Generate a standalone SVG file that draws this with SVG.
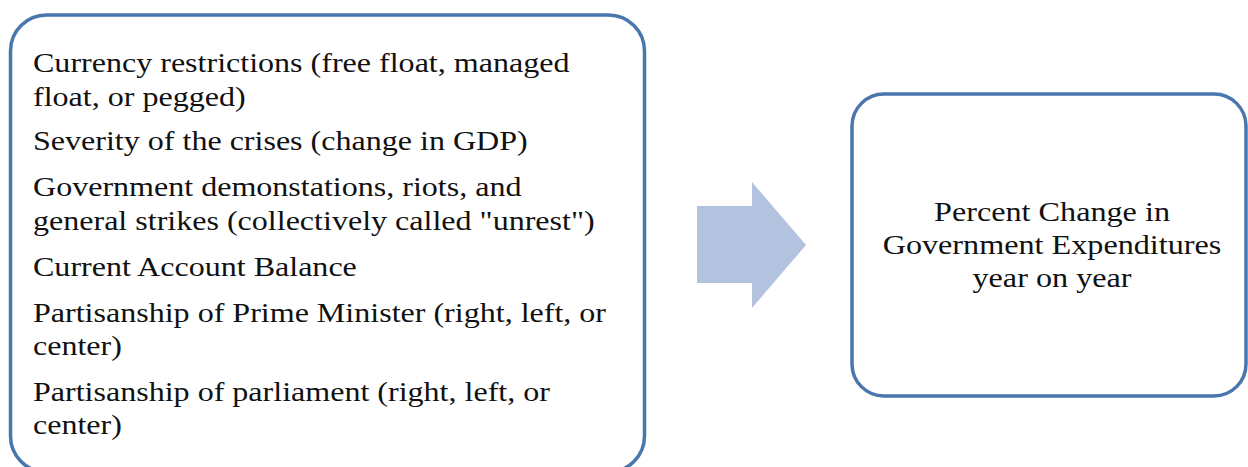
<svg xmlns="http://www.w3.org/2000/svg" width="1248" height="467" viewBox="0 0 1248 467">
<style>
.box{fill:#ffffff;stroke:#4A76AE;stroke-width:3.5}
.t{font-family:"Liberation Serif","Times New Roman",serif;font-size:28px;fill:#111111}
.c{text-anchor:middle}
</style>
<rect width="1248" height="467" fill="#ffffff"/>
<g id="factors">
<rect class="box" x="10.5" y="15" width="634" height="457" rx="36" ry="36"/>
<g transform="translate(33,0) scale(1.145,1)">
<text class="t" x="0" y="72">Currency restrictions (free float, managed</text>
<text class="t" x="0" y="106">float, or pegged)</text>
<text class="t" x="0" y="150">Severity of the crises (change in GDP)</text>
<text class="t" x="0" y="196">Government demonstations, riots, and</text>
<text class="t" x="0" y="230">general strikes (collectively  called "unrest")</text>
<text class="t" x="0" y="276">Current Account Balance</text>
<text class="t" x="0" y="322">Partisanship of Prime Minister (right, left, or</text>
<text class="t" x="0" y="355">center)</text>
<text class="t" x="0" y="401">Partisanship of parliament (right, left, or</text>
<text class="t" x="0" y="434">center)</text>
</g>
</g>
<g id="connectors">
<polygon points="697,206 752,206 752,182 806,245 752,308 752,283 697,283" fill="#B3C2DE"/>
</g>
<g id="outcome">
<rect class="box" x="852" y="94" width="394" height="302" rx="32" ry="32"/>
<g transform="translate(1052,0) scale(1.15,1)">
<text class="t c" x="0" y="221">Percent Change in</text>
<text class="t c" x="0" y="254">Government Expenditures</text>
<text class="t c" x="0" y="287">year on year</text>
</g>
</g>
</svg>
